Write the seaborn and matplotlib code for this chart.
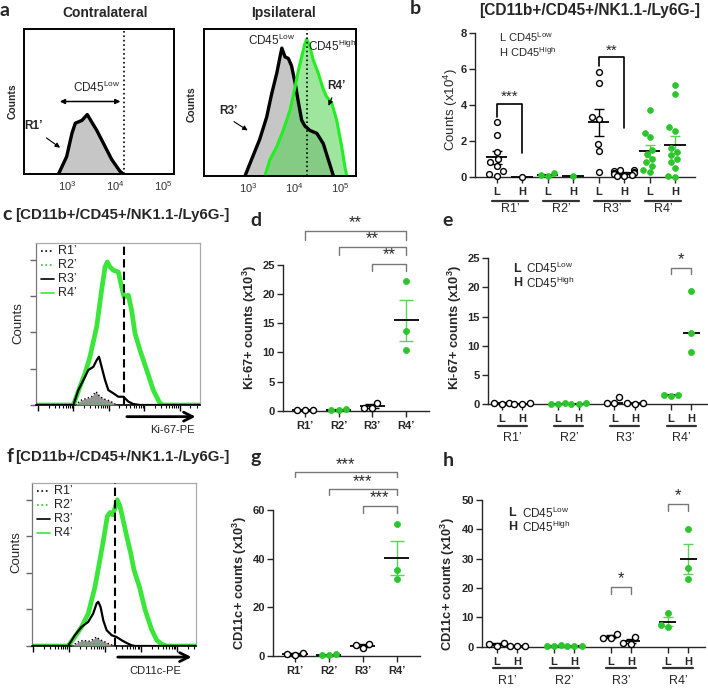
import numpy as np
import pandas as pd
import matplotlib
matplotlib.use("Agg")
import matplotlib.pyplot as plt
import seaborn as sns
from matplotlib.lines import Line2D

# ---------------- values ----------------

# panel a: CD45 histograms, x = log10(CD45), y = fraction of plot height
contra_r1_x = [2.82, 2.99, 3.10, 3.17, 3.31, 3.42, 3.51, 3.62, 3.76, 3.93, 4.10, 4.17]
contra_r1_y = [0.0, 0.12, 0.28, 0.35, 0.37, 0.41, 0.36, 0.30, 0.21, 0.10, 0.02, 0.0]
ipsi_r3_x = [2.93, 3.07, 3.25, 3.40, 3.51, 3.62, 3.69, 3.73, 3.80, 3.87, 3.94, 4.02,
             4.09, 4.16, 4.23, 4.34, 4.49, 4.63, 4.74, 4.85]
ipsi_r3_y = [0.0, 0.11, 0.25, 0.40, 0.56, 0.70, 0.81, 0.87, 0.81, 0.80, 0.75, 0.63,
             0.50, 0.38, 0.34, 0.31, 0.29, 0.22, 0.11, 0.0]
ipsi_r4_x = [3.36, 3.47, 3.62, 3.76, 3.91, 4.02, 4.09, 4.16, 4.23, 4.27, 4.34, 4.41,
             4.52, 4.63, 4.70, 4.81, 4.92, 5.03, 5.10, 5.14]
ipsi_r4_y = [0.0, 0.11, 0.20, 0.31, 0.45, 0.61, 0.72, 0.81, 0.90, 0.93, 0.88, 0.79,
             0.70, 0.59, 0.54, 0.50, 0.38, 0.20, 0.06, 0.0]
contra_gate = 4.19
ipsi_gate = 4.28

# panel c: Ki-67-PE histograms (x: % of axis, y: % of axis)
c_r4_x = [0, 22.8, 26.8, 29.9, 32.9, 37.0, 40.0, 42.1, 43.5, 45.1, 47.2, 50.2, 52.2,
          53.7, 56.3, 58.3, 60.4, 63.4, 67.5, 71.5, 75.6, 77.6, 100]
c_r4_y = [0, 0, 11.3, 19.5, 29.8, 48.3, 70.8, 85.2, 88.3, 85.2, 83.2, 82.1, 72.9,
          66.7, 67.8, 58.5, 44.1, 33.9, 21.6, 9.2, 1.0, 0, 0]
c_r3_x = [0, 22.8, 25.8, 28.9, 31.9, 35.0, 37.0, 38.4, 40.0, 42.1, 44.1, 47.2, 50.2,
          53.3, 56.3, 59.3, 63.4, 100]
c_r3_y = [0, 0, 9.2, 15.4, 21.6, 23.6, 27.7, 29.8, 23.6, 15.4, 9.2, 7.2, 5.1, 5.1,
          2.1, 0.6, 0, 0]
c_r1_x = [23.8, 27.8, 30.9, 33.9, 36.6, 39.0, 42.1, 45.1, 48.2, 50.2]
c_r1_y = [0, 3.1, 4.1, 5.1, 8.2, 5.1, 3.5, 2.5, 0.6, 0]
c_r2_x = [23.8, 30, 35, 38, 42, 46]
c_r2_y = [0, 0.8, 1.5, 1.2, 0.5, 0]
c_gate = 53.7

# panel f: CD11c-PE histograms
f_r4_x = [0, 22.0, 26.1, 30.2, 34.3, 38.4, 41.4, 43.9, 45.9, 47.6, 49.2, 50.6, 52.0,
          53.7, 55.3, 57.8, 60.2, 62.2, 65.5, 69.0, 73.1, 76.1, 79.2, 82.2, 100]
f_r4_y = [0, 0, 5.5, 11.7, 19.9, 36.3, 52.8, 67.1, 79.5, 81.9, 80.5, 84.6, 89.7,
          85.6, 78.4, 67.1, 56.9, 46.6, 36.3, 22.0, 9.7, 3.5, 1.0, 0, 0]
f_r3_x = [0, 22.0, 26.1, 30.2, 34.3, 37.3, 39.4, 40.4, 41.8, 43.5, 45.5, 48.6, 51.6,
          54.7, 57.8, 60.8, 62.9, 100]
f_r3_y = [0, 0, 6.6, 11.7, 14.8, 19.9, 26.1, 27.1, 24.0, 15.6, 9.7, 6.6, 5.5, 3.5,
          1.8, 0.4, 0, 0]
f_r1_x = [24.1, 28.2, 31.2, 35.3, 37.8, 39.4, 41.4, 44.5, 47.6, 50.6]
f_r1_y = [0, 2.5, 3.5, 2.9, 4.5, 5.5, 3.9, 2.5, 1.0, 0]
f_r2_x = [24.0, 30, 38, 42, 48]
f_r2_y = [0, 0.5, 1.2, 0.8, 0]
f_gate = 50.6

regions = ["R1\u2019", "R2\u2019", "R3\u2019", "R4\u2019"]

# panel b: counts (x10^4), CD45 low / high per region
b_low = [[3.05, 2.35, 1.4, 1.0, 0.8, 0.6, 0.3, 0.15, 0.05],
         [0.2, 0.1, 0.03],
         [5.85, 5.25, 3.35, 3.2, 1.85, 1.45, 0.25],
         [3.7, 2.45, 2.2, 1.5, 1.25, 1.0, 0.8, 0.6, 0.4, 0.25]]
b_high = [[0.0],
          [0.02],
          [0.4, 0.35, 0.3, 0.25, 0.2, 0.2, 0.15, 0.1, 0.05, 0.05],
          [5.1, 4.6, 2.75, 2.55, 1.6, 1.4, 1.2, 1.0, 0.8, 0.5, 0.05, 0.0]]

# panel d: Ki-67+ counts (x10^3)
d_vals = [[0.05, 0.1, 0.05], [0.05, 0.3, 0.1], [1.4, 0.5, 0.4], [22.3, 13.7, 10.5]]
# panel e: Ki-67+ counts (x10^3) by CD45 low / high
e_low = [[0.1, 0.15, 0.05], [0.05, 0.1, 0.05], [1.2, 0.2, 0.1], [1.3, 1.6, 1.5]]
e_high = [[0.05, 0.1, 0.05], [0.05, 0.1, 0.05], [0.1, 0.15, 0.05], [19.45, 12.1, 8.9]]
# panel g: CD11c+ counts (x10^3)
g_vals = [[0.2, 1.0, 0.9], [0.3, 0.6, 0.2], [3.0, 5.0, 4.4], [54.3, 35.3, 31.5]]
# panel h: CD11c+ counts (x10^3) by CD45 low / high
h_low = [[0.4, 1.2, 1.0], [0.3, 0.5, 0.2], [4.4, 2.8, 2.9], [11.4, 6.8, 7.3]]
h_high = [[0.1, 0.2, 0.1], [0.1, 0.2, 0.1], [3.2, 1.2, 1.0], [40.0, 26.7, 23.0]]

# ---------------- style ----------------
sns.set_style("ticks")
plt.rcParams['font.family'] = ['Liberation Sans', 'DejaVu Sans']
plt.rcParams['mathtext.default'] = 'regular'
plt.rcParams['axes.linewidth'] = 1.0

GREEN = '#2dc52d'
GREEN_BAR = '#5ad35a'
HIST_GREEN = '#3ae63a'
W, H = 708, 688

fig = plt.figure(figsize=(W / 100, H / 100), dpi=100)


def add_ax(l, t, r, b):
    return fig.add_axes([l / W, 1 - b / H, (r - l) / W, (b - t) / H])


def ftext(x, y, s, **kw):
    kw.setdefault('ha', 'center')
    kw.setdefault('va', 'center')
    fig.text(x / W, 1 - y / H, s, **kw)


# ---------------- panel a ----------------
ftext(5, 10, 'a', fontsize=14, fontweight='bold', family='Lato')
ftext(105, 13, 'Contralateral', fontsize=10, fontweight='bold')
ftext(283, 13, 'Ipsilateral', fontsize=10, fontweight='bold')

ax = add_ax(24, 29, 174, 174)
ax.fill_between(contra_r1_x, contra_r1_y, color='#c6c6c6', lw=0)
ax.plot(contra_r1_x, contra_r1_y, color='black', lw=2.4)
ax.axvline(contra_gate, color='black', ls=':', lw=1.2)
ax.set_xlim(2.10, 5.23)
ax.set_ylim(0, 1)
ax.annotate('', xy=(2.79, 0.5), xytext=(4.17, 0.5),
            arrowprops=dict(arrowstyle='<|-|>', lw=1.1, color='black', mutation_scale=7))
ax.text(3.62, 0.6, 'CD45$^{Low}$', ha='center', va='center', fontsize=8.5, color='#222')
ax.text(2.29, 0.33, 'R1\u2019', ha='center', va='center', fontsize=8.5, fontweight='bold')
ax.annotate('', xy=(2.9, 0.17), xytext=(2.52, 0.26),
            arrowprops=dict(arrowstyle='-|>', lw=0.8, color='black', mutation_scale=7))
ax_a1 = ax

ax = add_ax(204, 29, 356, 176)
ax.fill_between(ipsi_r3_x, ipsi_r3_y, color='#c6c6c6', lw=0)
ax.plot(ipsi_r3_x, ipsi_r3_y, color='black', lw=2.4)
ax.fill_between(ipsi_r4_x, ipsi_r4_y, color='#4fd04f', alpha=0.55, lw=0)
ax.plot(ipsi_r4_x, ipsi_r4_y, color='#22ee22', lw=2.2)
ax.axvline(ipsi_gate, color='black', ls=':', lw=1.2)
ax.set_xlim(2.04, 5.34)
ax.set_ylim(0, 1)
ax.text(3.51, 0.92, 'CD45$^{Low}$', ha='center', va='center', fontsize=8.5, color='#222')
ax.text(4.30, 0.88, 'CD45$^{High}$', ha='left', va='center', fontsize=8.5, color='#222')
ax.text(2.56, 0.44, 'R3\u2019', ha='center', va='center', fontsize=8.5, fontweight='bold')
ax.annotate('', xy=(3.04, 0.30), xytext=(2.64, 0.38),
            arrowprops=dict(arrowstyle='-|>', lw=0.8, color='black', mutation_scale=7))
ax.text(4.92, 0.61, 'R4\u2019', ha='center', va='center', fontsize=8.5, fontweight='bold')
ax.annotate('', xy=(4.72, 0.46), xytext=(4.84, 0.55),
            arrowprops=dict(arrowstyle='-|>', lw=0.8, color='black', mutation_scale=7))
ax_a2 = ax

for ax in (ax_a1, ax_a2):
    ax.set_xticks([3, 4, 5], ['$10^3$', '$10^4$', '$10^5$'])
    ax.set_yticks([])
    ax.tick_params(axis='x', length=0, pad=4, labelsize=8, labelcolor='#333')
    for s in ax.spines.values():
        s.set_visible(True)
        s.set_linewidth(1.4)
        s.set_color('black')
ftext(13, 101, 'Counts', rotation=90, fontsize=7.5, fontweight='bold')
ftext(192, 104, 'Counts', rotation=90, fontsize=7.5, fontweight='bold')


# ---------------- panels c / f ----------------
def flow_panel(ax, r1, r2, r3, r4, gate, major0, decade, arrow_y, xlab, xlab_x):
    ax.fill_between(r1[0], r1[1], color='#959595', lw=0, zorder=3)
    ax.plot(r4[0], r4[1], color=HIST_GREEN, lw=3.4, zorder=2)
    ax.plot(r3[0], r3[1], color='black', lw=1.6, zorder=4)
    ax.plot(r1[0], r1[1], color='black', lw=1.0, ls=':', zorder=5)
    ax.plot(r2[0], r2[1], color=GREEN, lw=1.0, ls=':', zorder=5)
    ax.axvline(gate, color='black', lw=1.5, ls=(0, (4, 2)), zorder=6)
    ax.set_xlim(0, 100)
    ax.set_ylim(0, 100)
    majors = [major0 + decade * i for i in range(5)]
    minors = [m + decade * np.log10(k) for m in majors for k in range(2, 10)
              if m + decade * np.log10(k) < 100]
    ax.set_xticks(majors, [''] * len(majors))
    ax.set_xticks(minors, minor=True)
    ax.set_yticks([0, 22.4, 44.8, 67.2, 89.6], [''] * 5)
    ax.tick_params(axis='x', which='major', length=4, width=1, color='black', direction='out')
    ax.tick_params(axis='x', which='minor', length=2, width=0.8, color='black', direction='out', bottom=True)
    ax.tick_params(axis='y', length=4, width=1, color='#666', direction='out')
    for side in ('top', 'right', 'left'):
        ax.spines[side].set_visible(True)
        ax.spines[side].set_color('#aaaaaa')
        ax.spines[side].set_linewidth(0.9)
    ax.spines['left'].set_color('#777777')
    ax.spines['bottom'].set_color('black')
    ax.spines['bottom'].set_linewidth(1.2)
    # legend
    items = [('black', ':', 'R1\u2019'), (GREEN, ':', 'R2\u2019'),
             ('black', '-', 'R3\u2019'), (HIST_GREEN, '-', 'R4\u2019')]
    for i, (col, ls, lab) in enumerate(items):
        yy = 0.948 - i * 0.085
        ax.add_line(Line2D([0.03, 0.11], [yy, yy], transform=ax.transAxes,
                           color=col, ls=ls, lw=1.2))
        ax.text(0.135, yy, lab, transform=ax.transAxes, ha='left', va='center',
                fontsize=9, color='#222')
    ax.annotate('', xy=(99, arrow_y), xytext=(gate, arrow_y),
                xycoords=ax.get_xaxis_transform(), textcoords=ax.get_xaxis_transform(),
                arrowprops=dict(arrowstyle='->', lw=2.0, color='black', mutation_scale=16))
    ax.text(xlab_x, arrow_y - 0.085, xlab, transform=ax.get_xaxis_transform(),
            ha='center', va='center', fontsize=8, color='#222')


ftext(7, 214, 'c', fontsize=14, fontweight='bold', family='Lato')
ftext(15, 215, '[CD11b+/CD45+/NK1.1-/Ly6G-]', ha='left', fontsize=10.8, fontweight='bold')
ax = add_ax(36, 243, 200, 405)
flow_panel(ax, (c_r1_x, c_r1_y), (c_r2_x, c_r2_y), (c_r3_x, c_r3_y), (c_r4_x, c_r4_y),
           c_gate, 1.2, 21.6, -0.072, 'Ki-67-PE', 83)
ftext(18, 323, 'Counts', rotation=90, fontsize=9.5)

ftext(10, 456, 'f', fontsize=14, fontweight='bold', family='Lato')
ftext(15, 457, '[CD11b+/CD45+/NK1.1-/Ly6G-]', ha='left', fontsize=10.8, fontweight='bold')
ax = add_ax(32, 483, 196, 646)
flow_panel(ax, (f_r1_x, f_r1_y), (f_r2_x, f_r2_y), (f_r3_x, f_r3_y), (f_r4_x, f_r4_y),
           f_gate, 0.5, 22.0, -0.068, 'CD11c-PE', 75)
ftext(16, 552, 'Counts', rotation=90, fontsize=9.5)


# ---------------- dot plots ----------------
def dot_panel(ax, xs, vals, kinds, size, center='mean', hw=0.38, cap=4):
    rows = []
    for x, v, k in zip(xs, vals, kinds):
        for y in v:
            rows.append((x, y, k))
    df = pd.DataFrame(rows, columns=['x', 'val', 'kind'])
    for x, v, k in zip(xs, vals, kinds):
        v = np.asarray(v)
        c = np.median(v) if center == 'median' else v.mean()
        ax.hlines(c, x - hw, x + hw, color='black', lw=1.3, zorder=4)
        if center == 'mean' and len(v) > 1:
            sem = v.std(ddof=1) / np.sqrt(len(v))
            ax.errorbar(x, c, yerr=sem, fmt='none', ecolor='black' if k == 'open' else GREEN_BAR,
                        elinewidth=1.0, capsize=cap, capthick=1.0, zorder=3)
    opn = df[df.kind == 'open']
    grn = df[df.kind == 'green']
    sns.swarmplot(data=opn, x='x', y='val', native_scale=True, orient='x', ax=ax,
                  color='white', edgecolor='black', linewidth=1.0, size=size, zorder=5)
    sns.swarmplot(data=grn, x='x', y='val', native_scale=True, orient='x', ax=ax,
                  color=GREEN, edgecolor=GREEN, linewidth=0.5, size=size, zorder=5)
    for coll in ax.collections:
        coll.set_clip_on(False)
    ax.set_xlabel('')
    ax.set_ylabel('')
    sns.despine(ax=ax)
    ax.tick_params(length=4, width=1, direction='out')
    ax.tick_params(axis='y', pad=2)


def bracket(ax, x1, x2, ytop, y1, y2, text, ty, color='#777777', lw=1.0, fs=12):
    ax.plot([x1, x1, x2, x2], [y1, ytop, ytop, y2], color=color, lw=lw, clip_on=False)
    ax.text((x1 + x2) / 2, ty, text, ha='center', va='center', fontsize=fs, clip_on=False)


def lh_axis(ax, pos_l, pos_h, under_y, lab_y, lab_fs):
    ticks = [p for pair in zip(pos_l, pos_h) for p in pair]
    ax.set_xticks(ticks, ['L', 'H'] * 4, fontweight='bold', fontsize=8)
    tr = ax.get_xaxis_transform()
    for i, (pl, ph) in enumerate(zip(pos_l, pos_h)):
        ax.plot([pl - 0.2, ph + 0.22], [under_y, under_y], transform=tr, color='#333',
                lw=1.6, clip_on=False)
        ax.text((pl + ph) / 2 + 0.03, lab_y, regions[i], transform=tr, ha='center',
                va='center', fontsize=lab_fs)


kinds = ['open', 'green', 'open', 'green']

# panel b
ftext(415, 9, 'b', fontsize=14, fontweight='bold', family='Lato')
ftext(590, 10, '[CD11b+/CD45+/NK1.1-/Ly6G-]', fontsize=11.2, fontweight='bold')
ax = add_ax(475, 33.3, 695, 176.7)
bl = [2 * i for i in range(4)]
bh = [2 * i + 1 for i in range(4)]
dot_panel(ax, bl + bh, b_low + b_high, kinds + kinds, size=4.2, hw=0.42, cap=3.5)
ax.set_xlim(-0.85, 7.78)
ax.set_ylim(0, 8)
ax.set_yticks([0, 2, 4, 6, 8])
ax.tick_params(axis='y', labelsize=8)
for t in ax.get_yticklabels():
    t.set_fontweight('bold')
lh_axis(ax, bl, bh, -0.167, -0.228, 9)
bracket(ax, 0, 1, 4.06, 3.35, 1.3, '***', 4.45, color='black', lw=1.2, fs=11)
bracket(ax, 4, 5, 6.7, 6.18, 2.7, '**', 7.05, color='black', lw=1.2, fs=11)
ax.text(0.1, 7.8, 'L CD45$^{Low}$', ha='left', va='center', fontsize=8)
ax.text(0.1, 6.95, 'H CD45$^{High}$', ha='left', va='center', fontsize=8)
ftext(451, 110, 'Counts (x10$^4$)', rotation=90, fontsize=9.5)

# panel d
ftext(256, 221, 'd', fontsize=14, fontweight='bold', family='Lato')
ax = add_ax(283.3, 265, 429.3, 410.7)
dot_panel(ax, [0, 1, 2, 3], d_vals, kinds, size=4.4, hw=0.37, cap=5)
ax.set_xlim(-0.64, 3.69)
ax.set_ylim(0, 25)
ax.set_yticks([0, 5, 10, 15, 20, 25])
ax.set_xticks([0, 1, 2, 3], regions)
ax.tick_params(labelsize=8)
for t in ax.get_xticklabels() + ax.get_yticklabels():
    t.set_fontweight('bold')
bracket(ax, 0, 3, 30.9, 29.3, 29.3, '**', 32.3)
bracket(ax, 1, 3, 28.15, 26.7, 26.7, '**', 29.5)
bracket(ax, 2, 3, 25.2, 23.9, 23.9, '**', 26.7)
ftext(250, 327, 'Ki-67+ counts (x10$^3$)', rotation=90, fontsize=9.3, fontweight='bold')

# panel e
ftext(448, 221, 'e', fontsize=14, fontweight='bold', family='Lato')
ax = add_ax(488.3, 258.3, 708, 404)
el = [2.75 * i for i in range(4)]
eh = [2.75 * i + 1 for i in range(4)]
dot_panel(ax, el + eh, e_low + e_high, kinds + kinds, size=4.4, center='median', hw=0.4)
ax.set_xlim(-0.65, 10.06)
ax.set_ylim(0, 25)
ax.set_yticks([0, 5, 10, 15, 20, 25])
ax.tick_params(axis='y', labelsize=8)
for t in ax.get_yticklabels():
    t.set_fontweight('bold')
lh_axis(ax, el, eh, -0.151, -0.23, 9)
bracket(ax, el[3], eh[3], 23.4, 22.3, 22.3, '*', 24.8)
ax.text(0.55, 23.2, 'L', ha='left', va='center', fontsize=9, fontweight='bold')
ax.text(1.2, 23.2, 'CD45$^{Low}$', ha='left', va='center', fontsize=8.5)
ax.text(0.55, 20.7, 'H', ha='left', va='center', fontsize=9, fontweight='bold')
ax.text(1.2, 20.7, 'CD45$^{High}$', ha='left', va='center', fontsize=8.5)
ftext(455, 327, 'Ki-67+ counts (x10$^3$)', rotation=90, fontsize=9.3, fontweight='bold')

# panel g
ftext(256, 458, 'g', fontsize=14, fontweight='bold', family='Lato')
ax = add_ax(273.3, 510, 420, 655.7)
dot_panel(ax, [0, 1, 2, 3], g_vals, kinds, size=4.4, hw=0.37, cap=5)
ax.set_xlim(-0.64, 3.69)
ax.set_ylim(0, 60)
ax.set_yticks([0, 20, 40, 60])
ax.set_xticks([0, 1, 2, 3], regions)
ax.tick_params(labelsize=8)
for t in ax.get_xticklabels() + ax.get_yticklabels():
    t.set_fontweight('bold')
bracket(ax, 0, 3, 75.5, 73.4, 73.4, '***', 78.8)
bracket(ax, 1, 3, 68.5, 66.2, 66.2, '***', 71.8)
bracket(ax, 2, 3, 61.7, 58.7, 58.7, '***', 65.0)
ftext(240, 583, 'CD11c+ counts (x10$^3$)', rotation=90, fontsize=9.3, fontweight='bold')

# panel h
ftext(448, 460, 'h', fontsize=14, fontweight='bold', family='Lato')
ax = add_ax(482.3, 500, 705, 646.7)
hl = [2.75 * i for i in range(4)]
hh = [2.75 * i + 1 for i in range(4)]
dot_panel(ax, hl + hh, h_low + h_high, kinds + kinds, size=4.4, hw=0.42, cap=3.5)
ax.set_xlim(-0.7, 10.06)
ax.set_ylim(0, 50)
ax.set_yticks([0, 10, 20, 30, 40, 50])
ax.tick_params(axis='y', labelsize=8)
for t in ax.get_yticklabels():
    t.set_fontweight('bold')
lh_axis(ax, hl, hh, -0.147, -0.232, 9)
bracket(ax, hl[2], hh[2], 20.45, 17.95, 17.95, '*', 23.2)
bracket(ax, hl[3], hh[3], 48.6, 46.4, 46.4, '*', 51.6)
ax.text(0.55, 45.6, 'L', ha='left', va='center', fontsize=9, fontweight='bold')
ax.text(1.2, 45.6, 'CD45$^{Low}$', ha='left', va='center', fontsize=8.5)
ax.text(0.55, 40.8, 'H', ha='left', va='center', fontsize=9, fontweight='bold')
ax.text(1.2, 40.8, 'CD45$^{High}$', ha='left', va='center', fontsize=8.5)
ftext(448, 584, 'CD11c+ counts (x10$^3$)', rotation=90, fontsize=9.3, fontweight='bold')

fig.savefig("out.png", dpi=100)
